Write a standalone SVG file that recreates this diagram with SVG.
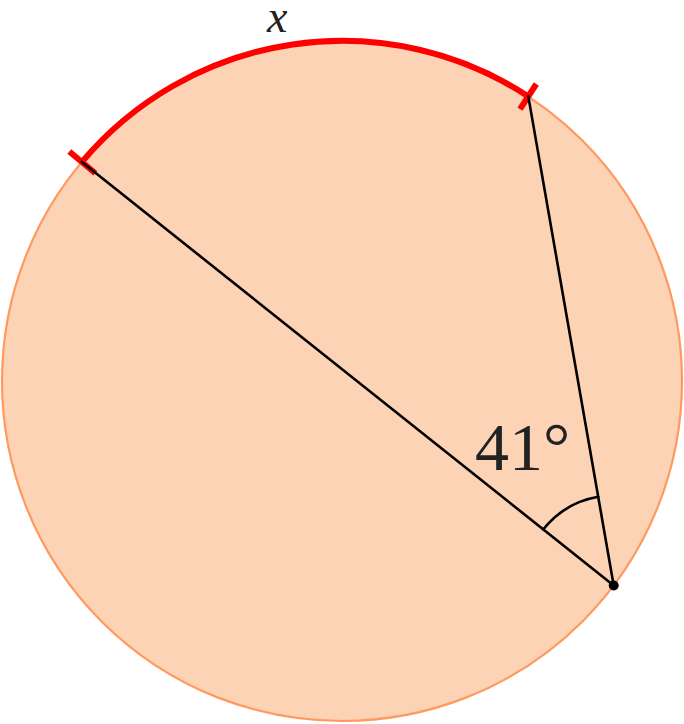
<svg xmlns="http://www.w3.org/2000/svg" width="684" height="724" viewBox="0 0 684 724">
<style>
.ln{stroke:#000;stroke-width:2.6;fill:none;stroke-linecap:round}
.red{stroke:#ff0000;stroke-width:6;fill:none}
.lbl{font-family:"Liberation Serif","DejaVu Serif",serif;fill:#222}
</style>
<rect width="684" height="724" fill="#fff"/>
<g id="circle">
<circle cx="342" cy="381" r="340" fill="#fcd3b5" stroke="#ff9a5e" stroke-width="2.2"/>
</g>
<g id="arc-x">
<path class="red" d="M 81.9 162 A 340 340 0 0 1 528.3 96.4"/>
<line class="red" x1="95.3" y1="173.3" x2="69.3" y2="151.5"/>
<line class="red" x1="520" y1="109.2" x2="536.3" y2="84"/>
<text class="lbl" x="267" y="32" font-size="46" font-style="italic">x</text>
</g>
<g id="connectors">
<line class="ln" x1="81.9" y1="162" x2="613.7" y2="585.5"/>
<line class="ln" x1="528.3" y1="96.4" x2="613.7" y2="585.5"/>
<path class="ln" d="M 543.3 529.4 A 90 90 0 0 1 598.2 496.8"/>
</g>
<g id="vertex">
<circle cx="613.7" cy="585.5" r="5" fill="#000"/>
<text class="lbl" x="475" y="470" font-size="68" font-weight="300">41°</text>
</g>
</svg>
